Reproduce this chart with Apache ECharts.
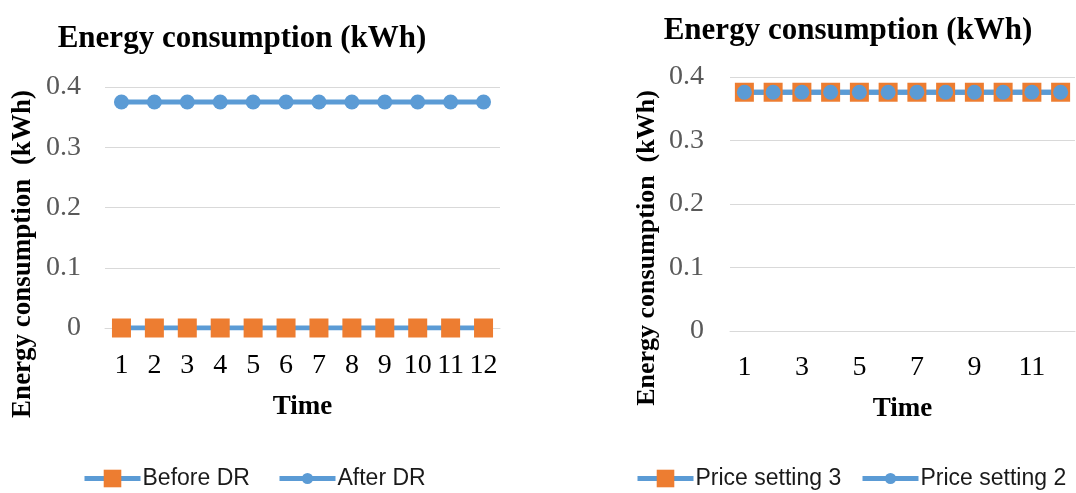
<!DOCTYPE html>
<html>
<head>
<meta charset="utf-8">
<script src="https://cdn.jsdelivr.net/npm/echarts@6/dist/echarts.min.js"></script>
<style>
html,body{margin:0;padding:0;background:#fff;}
#main{width:1076px;height:493px;}
</style>
</head>
<body>
<div id="main"></div>
<script>
const categories = ['1','2','3','4','5','6','7','8','9','10','11','12'];
const beforeDR = [0,0,0,0,0,0,0,0,0,0,0,0];
const afterDR = [0.375,0.375,0.375,0.375,0.375,0.375,0.375,0.375,0.375,0.375,0.375,0.375];
const priceSetting3 = [0.376,0.376,0.376,0.376,0.376,0.376,0.376,0.376,0.376,0.376,0.376,0.376];
const priceSetting2 = [0.376,0.376,0.376,0.376,0.376,0.376,0.376,0.376,0.376,0.376,0.376,0.376];
const titleText = 'Energy consumption (kWh)';
const yName = 'Energy consumption  (kWh)';
const xName = 'Time';

const BLUE = '#5B9BD5', ORANGE = '#ED7D31', GRID = '#D9D9D9';
const serif = '"Liberation Serif", "Times New Roman", serif';
const sans = '"Liberation Sans", Arial, sans-serif';

function xAxisFor(gridIndex, interval, margin, gap) {
  return {
    type: 'category', gridIndex: gridIndex, data: categories, boundaryGap: true,
    axisTick: {show: false},
    axisLine: {show: true, lineStyle: {color: GRID, width: 1}},
    axisLabel: {interval: interval, color: '#000', fontFamily: serif, fontSize: 28, margin: margin},
    name: xName, nameLocation: 'middle', nameGap: gap,
    nameTextStyle: {fontFamily: serif, fontWeight: 'bold', fontSize: 27, color: '#000'}
  };
}
function yAxisFor(gridIndex, margin) {
  return {
    type: 'value', gridIndex: gridIndex, min: 0, max: 0.4, interval: 0.1,
    axisLine: {show: false}, axisTick: {show: false},
    splitLine: {show: true, lineStyle: {color: GRID, width: 1}},
    axisLabel: {color: '#595959', fontFamily: serif, fontSize: 28, margin: margin}
  };
}
function legendFor(name, left, itemHeight) {
  return {
    data: [name], left: left, top: 467, padding: 0, itemWidth: 56, itemHeight: itemHeight,
    itemGap: 0, selectedMode: false,
    lineStyle: {width: 5, color: BLUE},
    textStyle: {fontFamily: sans, fontSize: 23, color: '#1a1a1a', padding: [0, 0, 0, -3]}
  };
}

const chart = echarts.init(document.getElementById('main'), null, {renderer: 'canvas'});
chart.setOption({
  backgroundColor: '#fff',
  animation: false,
  grid: [
    {left: 105, top: 87, width: 395, height: 241},
    {left: 730, top: 77, width: 345, height: 254}
  ],
  xAxis: [xAxisFor(0, 0, 24, 66), xAxisFor(1, 1, 23, 65)],
  yAxis: [yAxisFor(0, 24), yAxisFor(1, 26)],
  legend: [
    legendFor('Before DR', 82, 22),
    legendFor('After DR', 277, 14),
    legendFor('Price setting 3', 635, 22),
    legendFor('Price setting 2', 860, 14)
  ],
  graphic: [
    {type: 'text', x: 242, y: 39, style: {text: titleText, font: 'bold 31px ' + serif, fill: '#000', align: 'center', verticalAlign: 'middle'}},
    {type: 'text', x: 848, y: 31, style: {text: titleText, font: 'bold 31px ' + serif, fill: '#000', align: 'center', verticalAlign: 'middle'}},
    {type: 'text', x: 23, y: 254, rotation: Math.PI / 2, style: {text: yName, font: 'bold 27px ' + serif, fill: '#000', align: 'center', verticalAlign: 'middle'}},
    {type: 'text', x: 647, y: 248, rotation: Math.PI / 2, style: {text: yName, font: 'bold 26px ' + serif, fill: '#000', align: 'center', verticalAlign: 'middle'}}
  ],
  series: [
    {name: 'Before DR', type: 'line', xAxisIndex: 0, yAxisIndex: 0, data: beforeDR,
     symbol: 'rect', symbolSize: 19, showAllSymbol: true,
     lineStyle: {color: BLUE, width: 5}, itemStyle: {color: ORANGE, borderWidth: 0}},
    {name: 'After DR', type: 'line', xAxisIndex: 0, yAxisIndex: 0, data: afterDR,
     symbol: 'circle', symbolSize: 15, showAllSymbol: true,
     lineStyle: {color: BLUE, width: 5}, itemStyle: {color: BLUE, borderWidth: 0}},
    {name: 'Price setting 3', type: 'line', xAxisIndex: 1, yAxisIndex: 1, data: priceSetting3,
     symbol: 'rect', symbolSize: 19, showAllSymbol: true,
     lineStyle: {color: BLUE, width: 5}, itemStyle: {color: ORANGE, borderWidth: 0}},
    {name: 'Price setting 2', type: 'line', xAxisIndex: 1, yAxisIndex: 1, data: priceSetting2,
     symbol: 'circle', symbolSize: 15, showAllSymbol: true,
     lineStyle: {color: BLUE, width: 5}, itemStyle: {color: BLUE, borderWidth: 0}}
  ]
});
</script>
</body>
</html>
